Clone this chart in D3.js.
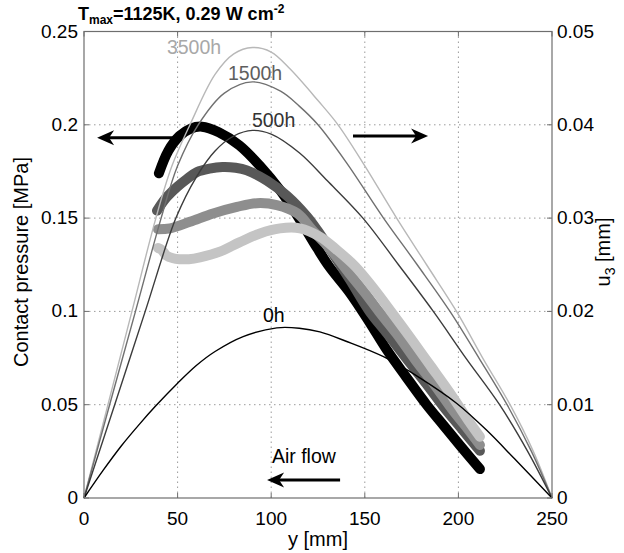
<!DOCTYPE html>
<html>
<head>
<meta charset="utf-8">
<script src="https://cdn.jsdelivr.net/npm/d3@7"></script>
<style>
body { margin: 0; background: #fff; }
text { font-family: "Liberation Sans", Arial, sans-serif; }
</style>
</head>
<body>
<svg id="chart" width="624" height="553"></svg>
<script>
// axis ticks
var xTicks = [0, 50, 100, 150, 200, 250];
var pTicks = [0, 0.05, 0.1, 0.15, 0.2, 0.25];
var pTickLabels = ["0", "0.05", "0.1", "0.15", "0.2", "0.25"];
var uTicks = [0, 0.01, 0.02, 0.03, 0.04, 0.05];
var uTickLabels = ["0", "0.01", "0.02", "0.03", "0.04", "0.05"];

// u3 [mm] (right axis), thin lines
var u0hX = [0, 10, 20, 30, 38, 50, 60, 70, 85, 103, 115, 126, 140, 160, 180, 199, 215, 230, 250];
var u0hY = [0, 0.0029, 0.0056, 0.008, 0.0098, 0.0123, 0.0142, 0.0157, 0.0173, 0.01824, 0.0182, 0.0178, 0.0168, 0.01514, 0.0128, 0.01016, 0.00728, 0.0042, 0];
var u500X = [0, 16.4, 32.7, 49.1, 60, 70, 80, 90, 100, 115, 130, 149, 168, 186.6, 204, 222, 237, 250];
var u500Y = [0, 0.01, 0.02, 0.03, 0.0344, 0.0372, 0.0388, 0.0394, 0.039, 0.037, 0.034, 0.03, 0.025, 0.02, 0.015, 0.01, 0.005, 0];
var u1500X = [0, 13.7, 27.5, 41.2, 50, 61, 75, 90, 105, 115, 125, 140, 160, 178, 195.5, 211, 226, 239, 250];
var u1500Y = [0, 0.01, 0.02, 0.03, 0.0356, 0.04, 0.0434, 0.0446, 0.0436, 0.042, 0.04, 0.036, 0.03, 0.025, 0.02, 0.015, 0.01, 0.005, 0];
var u3500X = [0, 12.8, 25.6, 38.4, 47, 56.6, 70, 80, 90, 100, 110, 125, 135.7, 150, 167, 183, 199, 213, 227.6, 240, 250];
var u3500Y = [0, 0.01, 0.02, 0.03, 0.0356, 0.04, 0.0454, 0.0476, 0.04828, 0.0478, 0.046, 0.0426, 0.04, 0.0356, 0.03, 0.025, 0.02, 0.015, 0.01, 0.005, 0];

// contact pressure [MPa] (left axis), thick marker lines
var p0hX = [40, 45, 51, 57, 63, 72, 83, 94, 104.7, 115.4, 124.5, 131, 142, 152, 162, 172, 183, 192, 201, 211.5];
var p0hY = [0.174, 0.186, 0.194, 0.198, 0.199, 0.196, 0.189, 0.178, 0.165, 0.149, 0.134, 0.124, 0.110, 0.095, 0.079, 0.065, 0.050, 0.039, 0.028, 0.0155];
var p500X = [39, 44, 49.7, 55, 60.4, 67, 74, 81, 87, 97.8, 108.4, 119, 125, 131, 142, 152.5, 162, 172, 183, 192, 201, 211.5];
var p500Y = [0.154, 0.161, 0.1667, 0.171, 0.1747, 0.1765, 0.1774, 0.177, 0.1756, 0.170, 0.162, 0.151, 0.143, 0.134, 0.117, 0.1, 0.088, 0.075, 0.061, 0.049, 0.038, 0.0253];
var p1500X = [39.5, 46, 56.6, 69, 81.7, 92.4, 103, 114, 122, 131, 142, 150, 157.5, 167, 177, 187, 197, 205, 211.5];
var p1500Y = [0.144, 0.1445, 0.148, 0.1525, 0.156, 0.158, 0.157, 0.1525, 0.1435, 0.134, 0.12, 0.11, 0.1, 0.088, 0.074, 0.061, 0.047, 0.037, 0.0284];
var p3500X = [39.5, 41.5, 44, 47.6, 51, 56, 62, 72.6, 83, 94, 104.7, 115.4, 126, 135, 145, 155, 164, 175, 185, 195, 205, 211.5];
var p3500Y = [0.134, 0.133, 0.130, 0.1285, 0.128, 0.128, 0.129, 0.132, 0.137, 0.1418, 0.1445, 0.1445, 0.14, 0.133, 0.124, 0.112, 0.1, 0.085, 0.071, 0.057, 0.042, 0.0328];

function zip(xs, ys) {
    return xs.map(function (x, i) { return [x, ys[i]]; });
}

var svg = d3.select("#chart");

var x = d3.scaleLinear().domain([0, 250]).range([84, 552]);
var yP = d3.scaleLinear().domain([0, 0.25]).range([498, 31.5]);
var yU = d3.scaleLinear().domain([0, 0.05]).range([498, 31.5]);

// grid
var grid = svg.append("g")
    .attr("stroke", "#9a9a9a")
    .attr("stroke-width", 1)
    .attr("stroke-dasharray", "1.5,3.5");
grid.selectAll(".gx").data(xTicks.slice(1, -1)).enter().append("line")
    .attr("x1", function (d) { return x(d); })
    .attr("x2", function (d) { return x(d); })
    .attr("y1", yP(0)).attr("y2", yP(0.25));
grid.selectAll(".gy").data(pTicks.slice(1, -1)).enter().append("line")
    .attr("y1", function (d) { return yP(d); })
    .attr("y2", function (d) { return yP(d); })
    .attr("x1", x(0)).attr("x2", x(250));

// contact pressure curves
var pLine = d3.line()
    .x(function (d) { return x(d[0]); })
    .y(function (d) { return yP(d[1]); })
    .curve(d3.curveCatmullRom);

var pSeries = [
    { pts: zip(p0hX, p0hY), color: "#000000" },
    { pts: zip(p500X, p500Y), color: "#585858" },
    { pts: zip(p1500X, p1500Y), color: "#8e8e8e" },
    { pts: zip(p3500X, p3500Y), color: "#c4c4c4" }
];

svg.append("g").selectAll("path")
    .data(pSeries)
    .enter()
    .append("path")
    .attr("d", function (d) { return pLine(d.pts); })
    .attr("fill", "none")
    .attr("stroke", function (d) { return d.color; })
    .attr("stroke-width", 10)
    .attr("stroke-linecap", "round")
    .attr("stroke-linejoin", "round");

// u3 curves
var uLine = d3.line()
    .x(function (d) { return x(d[0]); })
    .y(function (d) { return yU(d[1]); })
    .curve(d3.curveCatmullRom);

var uSeries = [
    { pts: zip(u3500X, u3500Y), color: "#b8b8b8" },
    { pts: zip(u1500X, u1500Y), color: "#707070" },
    { pts: zip(u500X, u500Y), color: "#3c3c3c" },
    { pts: zip(u0hX, u0hY), color: "#000000" }
];

svg.append("g").selectAll("path")
    .data(uSeries)
    .enter()
    .append("path")
    .attr("d", function (d) { return uLine(d.pts); })
    .attr("fill", "none")
    .attr("stroke", function (d) { return d.color; })
    .attr("stroke-width", 1.4);

// box and ticks
var axisColor = "#6e6e6e";
svg.append("rect")
    .attr("x", x(0)).attr("y", yP(0.25))
    .attr("width", x(250) - x(0)).attr("height", yP(0) - yP(0.25))
    .attr("fill", "none").attr("stroke", axisColor).attr("stroke-width", 1.2);

var ticks = svg.append("g").attr("stroke", axisColor).attr("stroke-width", 1);
xTicks.forEach(function (d) {
    ticks.append("line").attr("x1", x(d)).attr("x2", x(d)).attr("y1", yP(0)).attr("y2", yP(0) - 5);
    ticks.append("line").attr("x1", x(d)).attr("x2", x(d)).attr("y1", yP(0.25)).attr("y2", yP(0.25) + 5);
});
pTicks.forEach(function (d) {
    ticks.append("line").attr("x1", x(0)).attr("x2", x(0) + 5).attr("y1", yP(d)).attr("y2", yP(d));
});
uTicks.forEach(function (d) {
    ticks.append("line").attr("x1", x(250)).attr("x2", x(250) - 5).attr("y1", yU(d)).attr("y2", yU(d));
});

// tick labels
var fs = 19;
svg.append("g").selectAll("text").data(xTicks).enter().append("text")
    .attr("x", function (d) { return x(d); })
    .attr("y", 525)
    .attr("text-anchor", "middle")
    .attr("font-size", fs)
    .text(function (d) { return d; });

svg.append("g").selectAll("text").data(pTicks).enter().append("text")
    .attr("x", 78)
    .attr("y", function (d) { return yP(d) + 6; })
    .attr("text-anchor", "end")
    .attr("font-size", fs)
    .text(function (d, i) { return pTickLabels[i]; });

svg.append("g").selectAll("text").data(uTicks).enter().append("text")
    .attr("x", 557)
    .attr("y", function (d) { return yU(d) + 6; })
    .attr("font-size", fs)
    .text(function (d, i) { return uTickLabels[i]; });

// axis labels
svg.append("text")
    .attr("x", (x(0) + x(250)) / 2)
    .attr("y", 546)
    .attr("text-anchor", "middle")
    .attr("font-size", 20)
    .text("y [mm]");

svg.append("text")
    .attr("transform", "translate(28," + 262 + ") rotate(-90)")
    .attr("text-anchor", "middle")
    .attr("font-size", 20)
    .text("Contact pressure [MPa]");

var uLab = svg.append("text")
    .attr("transform", "translate(610," + 252 + ") rotate(-90)")
    .attr("text-anchor", "middle")
    .attr("font-size", 20);
uLab.append("tspan").text("u");
uLab.append("tspan").attr("font-size", 14).attr("dy", 5).text("3");
uLab.append("tspan").attr("dy", -5).text(" [mm]");

// title
var title = svg.append("text")
    .attr("x", 78).attr("y", 20)
    .attr("font-size", 18)
    .attr("font-weight", "bold");
title.append("tspan").text("T");
title.append("tspan").attr("font-size", 12).attr("dy", 4).text("max");
title.append("tspan").attr("dy", -4).text("=1125K, 0.29 W cm");
title.append("tspan").attr("font-size", 12).attr("dy", -7).text("-2");

// curve labels
var labels = [
    { t: "3500h", x: 44.3, v: 0.2382, c: "#a8a8a8" },
    { t: "1500h", x: 76.9, v: 0.2238, c: "#5e5e5e" },
    { t: "500h", x: 89.7, v: 0.1986, c: "#333333" },
    { t: "0h", x: 95.6, v: 0.0942, c: "#000000" }
];
svg.append("g").selectAll("text").data(labels).enter().append("text")
    .attr("x", function (d) { return x(d.x); })
    .attr("y", function (d) { return yP(d.v); })
    .attr("font-size", 19.5)
    .attr("fill", function (d) { return d.c; })
    .text(function (d) { return d.t; });

// arrows
function arrow(x1, x2, v) {
    var px1 = x(x1), px2 = x(x2), py = yP(v);
    var dir = px2 > px1 ? 1 : -1;
    var g = svg.append("g");
    g.append("line")
        .attr("x1", px1).attr("x2", px2 - dir * 10)
        .attr("y1", py).attr("y2", py)
        .attr("stroke", "#000").attr("stroke-width", 3);
    g.append("path")
        .attr("d", "M" + px2 + "," + py +
            "L" + (px2 - dir * 17) + "," + (py - 7.5) +
            "L" + (px2 - dir * 12) + "," + py +
            "L" + (px2 - dir * 17) + "," + (py + 7.5) + "Z")
        .attr("fill", "#000");
}
arrow(47.5, 7, 0.193);
arrow(143.7, 183.8, 0.194);
arrow(136.8, 97.8, 0.0096);

svg.append("text")
    .attr("x", x(100.4))
    .attr("y", yP(0.0187))
    .attr("font-size", 19.5)
    .text("Air flow");
</script>
</body>
</html>
